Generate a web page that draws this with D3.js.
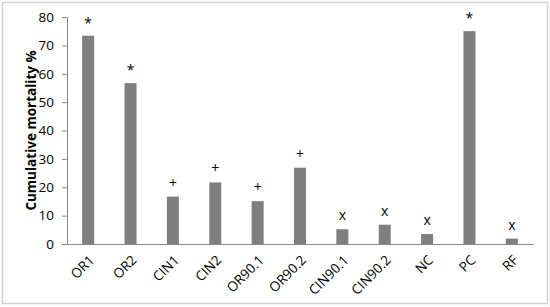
<!DOCTYPE html>
<html>
<head>
<meta charset="utf-8">
<script src="https://cdn.jsdelivr.net/npm/d3@7"></script>
<style>
  body { margin: 0; background: #fff; }
  text { font-family: "Open Sans", sans-serif; }
</style>
</head>
<body>
<script>
var categories = ['OR1', 'OR2', 'CIN1', 'CIN2', 'OR90.1', 'OR90.2', 'CIN90.1', 'CIN90.2', 'NC', 'PC', 'RF'];
var mortality = [73.4, 56.7, 16.7, 21.7, 15.1, 26.9, 5.2, 6.8, 3.5, 75.0, 1.9];
var marks = ['*', '*', '+', '+', '+', '+', 'x', 'x', 'x', '*', 'x'];
var yTicks = [0, 10, 20, 30, 40, 50, 60, 70, 80];

var svgWidth = 550;
var svgHeight = 307;
var plotLeft = 67, plotRight = 533, plotTop = 17, plotBottom = 244;

var svg = d3.select('body')
    .append('svg')
    .attr('width', svgWidth)
    .attr('height', svgHeight);

// outer frame
svg.append('rect')
    .attr('x', 2.5)
    .attr('y', 2.5)
    .attr('width', 545)
    .attr('height', 301)
    .attr('fill', 'white')
    .attr('stroke', '#d4d4d4')
    .attr('stroke-width', 1.5);

var x = d3.scaleBand()
    .domain(categories)
    .range([plotLeft, plotRight]);

var y = d3.scaleLinear()
    .domain([0, 80])
    .range([plotBottom, plotTop]);

var barWidth = 12;

svg.append('g')
    .selectAll('rect')
    .data(mortality)
    .enter()
    .append('rect')
    .attr('x', function (d, i) { return x(categories[i]) + x.bandwidth() / 2 - barWidth / 2; })
    .attr('y', function (d) { return y(d); })
    .attr('width', barWidth)
    .attr('height', function (d) { return y(0) - y(d); })
    .attr('fill', '#7f7f7f');

// significance marks
svg.append('g')
    .selectAll('text')
    .data(mortality)
    .enter()
    .append('text')
    .attr('x', function (d, i) { return x(categories[i]) + x.bandwidth() / 2; })
    .attr('y', function (d, i) {
        if (marks[i] === '*') return y(d) - 8;
        return y(d) - 9;
    })
    .attr('text-anchor', 'middle')
    .attr('font-size', function (d, i) { return marks[i] === '*' ? 14 : 14; })
    .attr('fill', '#000')
    .text(function (d, i) { return marks[i]; });

// y axis
var yAxis = svg.append('g')
    .attr('transform', 'translate(' + plotLeft + ',0)')
    .call(d3.axisLeft(y).tickValues(yTicks).tickSize(5).tickSizeOuter(0).tickPadding(8));
yAxis.select('.domain').attr('stroke', '#868686');
yAxis.selectAll('.tick line').attr('stroke', '#868686');
yAxis.selectAll('.tick text')
    .attr('font-size', 13.5)
    .attr('fill', '#000')
    .style('font-family', '"Open Sans", sans-serif');

// x axis
var xAxis = svg.append('g')
    .attr('transform', 'translate(0,' + plotBottom + ')')
    .call(d3.axisBottom(x).tickSize(0).tickPadding(0).tickSizeOuter(0));
xAxis.select('.domain').attr('stroke', '#868686');
xAxis.selectAll('.tick text')
    .attr('font-size', 13.5)
    .attr('fill', '#000')
    .attr('text-anchor', 'end')
    .attr('dy', 0)
    .attr('y', 0)
    .attr('transform', 'translate(7,17) rotate(-45)')
    .style('font-family', '"Open Sans", sans-serif');

svg.append('text')
    .attr('transform', 'translate(36,' + (plotTop + plotBottom) / 2 + ') rotate(-90)')
    .attr('text-anchor', 'middle')
    .attr('font-size', 13.5)
    .attr('font-weight', 'bold')
    .text('Cumulative mortality %');
</script>
</body>
</html>
